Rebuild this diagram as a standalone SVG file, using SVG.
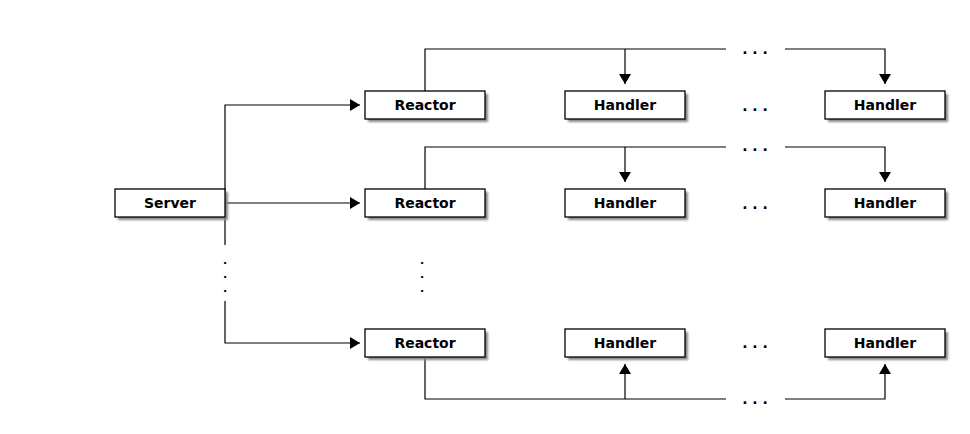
<svg xmlns="http://www.w3.org/2000/svg" width="970" height="434" viewBox="0 0 970 434">
<style>
.box{fill:#fff;stroke:#000;stroke-width:1.3}
.sh{fill:#888;filter:url(#blur)}
.lbl{font-family:"DejaVu Sans",sans-serif;font-weight:bold;font-size:14px;text-anchor:middle;fill:#000}
.vd{font-family:"DejaVu Sans",sans-serif;font-weight:bold;font-size:11px;text-anchor:middle;fill:#000}
.ln{fill:none;stroke:#000;stroke-width:1.2}
</style>
<defs>
<filter id="blur" x="-10%" y="-30%" width="120%" height="160%"><feGaussianBlur stdDeviation="1"/></filter>
<marker id="ah" markerWidth="10" markerHeight="12" refX="10" refY="6" orient="auto" markerUnits="userSpaceOnUse"><path d="M0,0 L10,6 L0,12 Z" fill="#000"/></marker>
</defs>
<rect width="970" height="434" fill="#fff"/>
<g id="connectors">
<path class="ln" d="M225,245 L225,105 L360,105" marker-end="url(#ah)"/>
<path class="ln" d="M225,203 L360,203" marker-end="url(#ah)"/>
<path class="ln" d="M225,301 L225,343 L360,343" marker-end="url(#ah)"/>
<path class="ln" d="M425,91 L425,49 L726,49"/>
<path class="ln" d="M625,49 L625,84" marker-end="url(#ah)"/>
<path class="ln" d="M785,49 L885,49 L885,84" marker-end="url(#ah)"/>
<path class="ln" d="M425,189 L425,147 L726,147"/>
<path class="ln" d="M625,147 L625,182" marker-end="url(#ah)"/>
<path class="ln" d="M785,147 L885,147 L885,182" marker-end="url(#ah)"/>
<path class="ln" d="M425,357 L425,399 L726,399"/>
<path class="ln" d="M625,399 L625,364" marker-end="url(#ah)"/>
<path class="ln" d="M785,399 L885,399 L885,364" marker-end="url(#ah)"/>
</g>
<g id="server"><rect class="sh" x="118" y="192" width="110" height="28"/><rect class="box" x="115" y="189" width="110" height="28"/><text class="lbl" x="170" y="208">Server</text></g>
<g id="reactor1"><rect class="sh" x="368" y="94" width="120" height="28"/><rect class="box" x="365" y="91" width="120" height="28"/><text class="lbl" x="425" y="110">Reactor</text></g>
<g id="reactor2"><rect class="sh" x="368" y="192" width="120" height="28"/><rect class="box" x="365" y="189" width="120" height="28"/><text class="lbl" x="425" y="208">Reactor</text></g>
<g id="reactor3"><rect class="sh" x="368" y="332" width="120" height="28"/><rect class="box" x="365" y="329" width="120" height="28"/><text class="lbl" x="425" y="348">Reactor</text></g>
<g id="handler1a"><rect class="sh" x="568" y="94" width="120" height="28"/><rect class="box" x="565" y="91" width="120" height="28"/><text class="lbl" x="625" y="110">Handler</text></g>
<g id="handler1b"><rect class="sh" x="828" y="94" width="120" height="28"/><rect class="box" x="825" y="91" width="120" height="28"/><text class="lbl" x="885" y="110">Handler</text></g>
<g id="handler2a"><rect class="sh" x="568" y="192" width="120" height="28"/><rect class="box" x="565" y="189" width="120" height="28"/><text class="lbl" x="625" y="208">Handler</text></g>
<g id="handler2b"><rect class="sh" x="828" y="192" width="120" height="28"/><rect class="box" x="825" y="189" width="120" height="28"/><text class="lbl" x="885" y="208">Handler</text></g>
<g id="handler3a"><rect class="sh" x="568" y="332" width="120" height="28"/><rect class="box" x="565" y="329" width="120" height="28"/><text class="lbl" x="625" y="348">Handler</text></g>
<g id="handler3b"><rect class="sh" x="828" y="332" width="120" height="28"/><rect class="box" x="825" y="329" width="120" height="28"/><text class="lbl" x="885" y="348">Handler</text></g>
<g id="ellipses">
<text class="lbl" x="755" y="54">. . .</text>
<text class="lbl" x="755" y="111">. . .</text>
<text class="lbl" x="755" y="151">. . .</text>
<text class="lbl" x="755" y="209">. . .</text>
<text class="lbl" x="755" y="348">. . .</text>
<text class="lbl" x="755" y="404">. . .</text>
<text class="vd" x="225" y="264">.</text>
<text class="vd" x="225" y="278">.</text>
<text class="vd" x="225" y="292">.</text>
<text class="vd" x="422" y="264">.</text>
<text class="vd" x="422" y="278">.</text>
<text class="vd" x="422" y="292">.</text>
</g>
</svg>
